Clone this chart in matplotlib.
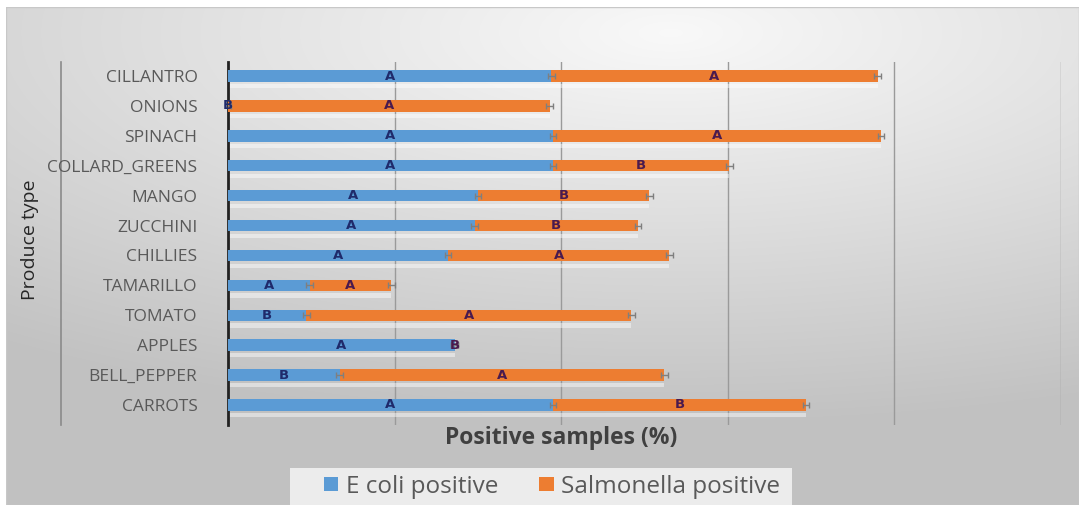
import numpy as np
import matplotlib
matplotlib.use("Agg")
import matplotlib.pyplot as plt
from matplotlib.patches import Rectangle

categories = ["CILLANTRO", "ONIONS", "SPINACH", "COLLARD_GREENS", "MANGO", "ZUCCHINI",
              "CHILLIES", "TAMARILLO", "TOMATO", "APPLES", "BELL_PEPPER", "CARROTS"]
ecoli = [19.4, 0.0, 19.5, 19.5, 15.0, 14.8, 13.2, 4.9, 4.7, 13.6, 6.7, 19.5]
salmonella = [19.6, 19.3, 19.7, 10.6, 10.3, 9.8, 13.3, 4.9, 19.5, 0.0, 19.5, 15.2]
ecoli_err = [0.2] * 12
salm_err = [0.2] * 12
ecoli_letters = ["A", "B", "A", "A", "A", "A", "A", "A", "B", "A", "B", "A"]
salm_letters = ["A", "A", "A", "B", "B", "B", "A", "A", "A", "B", "A", "B"]
grid_ticks = [0, 10, 20, 30, 40, 50]

W, H = 1084, 512
fig = plt.figure(figsize=(W / 100, H / 100), dpi=100)
fig.patch.set_facecolor("white")

# background gradient panel
bg = fig.add_axes([6 / W, 1 - 505 / H, (1079 - 6) / W, (505 - 7) / H], zorder=0)
ny, nx = 200, 400
yy, xx = np.mgrid[0:1:ny * 1j, 0:1:nx * 1j]
d = np.sqrt(((xx - 0.62) * 1.0) ** 2 + ((yy - 0.05) * 1.3) ** 2)
val = 0.975 - 0.22 * np.clip(d, 0, 1.2) / 1.2 * 1.15
val = np.clip(val, 0.76, 0.98)
img = np.dstack([val, val, val])
bg.imshow(img, aspect="auto", extent=[0, 1, 0, 1], interpolation="bilinear")
bg.set_xlim(0, 1); bg.set_ylim(0, 1)
bg.axis("off")
bg.add_patch(Rectangle((0, 0), 1, 1, fill=False, edgecolor="#c8c8c8", lw=1.0,
                       transform=bg.transAxes))

# legend background panel
fig.add_artist(Rectangle((290 / W, 1 - 505 / H), (792 - 290) / W, (505 - 468) / H,
                         transform=fig.transFigure, facecolor="#ececec",
                         edgecolor="none", zorder=1))

# category-axis separator line
fig.add_artist(plt.Line2D([61 / W, 61 / W], [1 - 425 / H, 1 - 62 / H],
                          color="#8a8a8a", lw=1.2, zorder=1))

ax = fig.add_axes([228 / W, 1 - 425 / H, (1061 - 228) / W, (425 - 62) / H], zorder=2)
ax.patch.set_alpha(0)
y = np.arange(len(categories))
h = 0.38
ax.barh(y, ecoli, height=h, color="#5B9BD5", label="E coli positive", zorder=3)
ax.barh(y, salmonella, left=ecoli, height=h, color="#ED7D31",
        label="Salmonella positive", zorder=3)
# faint reflection bands
ax.barh(y + 0.34, np.array(ecoli) + np.array(salmonella), height=0.14,
        color="white", alpha=0.45, zorder=2)

ends_e = np.array(ecoli)
ends_s = np.array(ecoli) + np.array(salmonella)
ax.errorbar(ends_e, y, xerr=ecoli_err, fmt="none", ecolor="#7f7f7f", elinewidth=1,
            capsize=2.5, capthick=1, zorder=4)
ax.errorbar(ends_s, y, xerr=salm_err, fmt="none", ecolor="#7f7f7f", elinewidth=1,
            capsize=2.5, capthick=1, zorder=4)

for i in range(len(categories)):
    ax.text(ecoli[i] / 2, y[i], ecoli_letters[i], ha="center", va="center",
            fontsize=9.5, fontweight="bold", color="#1F2A6B", zorder=5)
    ax.text(ecoli[i] + salmonella[i] / 2, y[i], salm_letters[i], ha="center",
            va="center", fontsize=9.5, fontweight="bold", color="#4A1A4E", zorder=5)

ax.set_xlim(0, 50)
ax.set_ylim(11.67, -0.47)
ax.set_xticks(grid_ticks)
ax.set_xticklabels([])
ax.tick_params(axis="x", length=0)
ax.xaxis.grid(True, color="#9a9a9a", lw=1.0, zorder=0)
ax.set_axisbelow(True)
ax.set_yticks(y)
ax.set_yticklabels(categories, fontsize=12.5, color="#595959", family="Open Sans")
ax.tick_params(axis="y", length=0, pad=22)
for s in ["top", "right", "bottom"]:
    ax.spines[s].set_visible(False)
ax.spines["left"].set_color("#222222")
ax.spines["left"].set_linewidth(2)

ax.set_xlabel("Positive samples (%)", fontsize=16.5, fontweight="bold",
              color="#404040", family="Open Sans")
ax.xaxis.set_label_coords((561 - 228) / (1061 - 228), -0.004)
fig.text(30 / W, 1 - 240 / H, "Produce type", rotation=90, ha="center", va="center",
         fontsize=14, color="#262626", family="Open Sans")

leg = fig.legend(loc="center", bbox_to_anchor=(552 / W, 1 - 487 / H), ncol=2,
                 frameon=False, handlelength=0.6, handleheight=0.5,
                 columnspacing=1.7, handletextpad=0.3, borderpad=0.1,
                 prop={"family": "Open Sans", "size": 17.5})
leg.set_zorder(3)
for t in leg.get_texts():
    t.set_color("#595959")

fig.savefig("out.png", dpi=100)
